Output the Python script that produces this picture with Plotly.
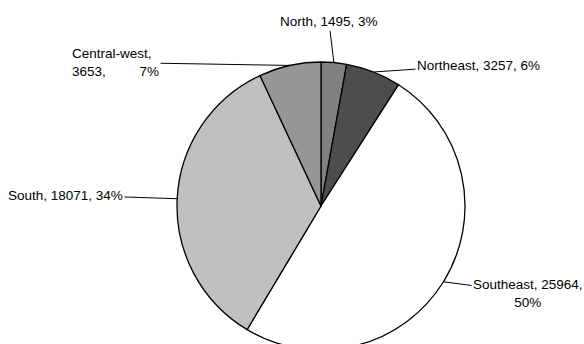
import plotly.graph_objects as go

# ---- data ----
regions = ["North", "Northeast", "Southeast", "South", "Central-west"]
counts = [1495, 3257, 25964, 18071, 3653]
colors = ["#808080", "#4d4d4d", "#ffffff", "#c0c0c0", "#969696"]

# label text centres (px) and alignment
label_pos = {
    "North": (329, 22),
    "Northeast": (478.5, 65),
    "Southeast": (528, 293),
    "South": (65.5, 195),
    "Central-west": (115.5, 62.5),
}

W, H = 584, 350
dom_x = [0.30, 0.7993]
dom_y = [0.0, 288 / 350]

total = sum(counts)
pcts = [round(v / total * 100) for v in counts]

fig = go.Figure(go.Pie(
    labels=regions,
    values=counts,
    sort=False,
    direction="clockwise",
    rotation=0,
    marker=dict(colors=colors, line=dict(color="black", width=1.3)),
    textinfo="none",
    hoverinfo="none",
    showlegend=False,
    domain=dict(x=dom_x, y=dom_y),
))

# pie geometry from the layout settings
box_w = W * (dom_x[1] - dom_x[0])
box_h = H * (dom_y[1] - dom_y[0])
r = min(box_w, box_h) / 2
cx = W * (dom_x[0] + dom_x[1]) / 2
cy = H * (1 - dom_y[0]) - box_h / 2

import math
annotations = []
cum = 0.0
for name, v, p in zip(regions, counts, pcts):
    mid = (cum + v / 2) / total
    cum += v
    theta = 2 * math.pi * mid
    tx = cx + r * math.sin(theta)
    ty = cy - r * math.cos(theta)
    lx, ly = label_pos[name]
    if name == "Southeast":
        text = f"{name}, {v},<br>{p}%"
        align = "center"
    elif name == "Central-west":
        text = f"{name},<br>{v}," + "\u00a0" * 9 + f"{p}%"
        align = "left"
    else:
        text = f"{name}, {v}, {p}%"
        align = "left"
    annotations.append(dict(
        x=tx / W, y=(H - ty) / H, xref="paper", yref="paper",
        text=text, align=align,
        showarrow=True, arrowhead=0, arrowwidth=1, arrowcolor="black",
        ax=lx - tx, ay=ly - ty, standoff=0, startstandoff=0,
        font=dict(family="Liberation Sans, Arial, sans-serif", size=13.5, color="black"),
    ))

fig.update_layout(
    width=W, height=H,
    margin=dict(l=0, r=0, t=0, b=0),
    paper_bgcolor="white",
    plot_bgcolor="white",
    annotations=annotations,
)

fig.write_html("out.html")
